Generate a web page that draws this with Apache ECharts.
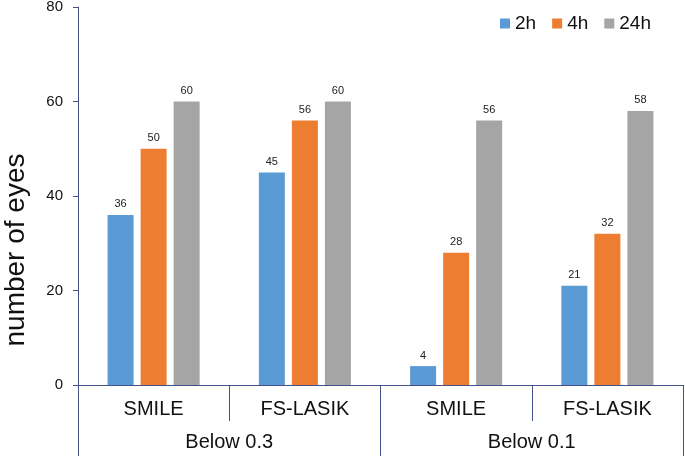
<!DOCTYPE html>
<html><head><meta charset="utf-8">
<script src="https://cdn.jsdelivr.net/npm/echarts@6/dist/echarts.min.js"></script>
<style>html,body{margin:0;padding:0;background:#fff}#c{width:685px;height:456px}</style>
</head><body><div id="c"></div>
<script>
const categories = ['SMILE', 'FS-LASIK', 'SMILE', 'FS-LASIK'];
const groups = ['Below 0.3', 'Below 0.1'];
const seriesNames = ['2h', '4h', '24h'];
const v2h = [36, 45, 4, 21];
const v4h = [50, 56, 28, 32];
const v24h = [60, 60, 56, 58];
const yTicks = [0, 20, 40, 60, 80];
const colors = ['#5B9BD5', '#ED7D31', '#A5A5A5'];
const axisColor = '#44508c';
const font = 'Liberation Sans, Arial, sans-serif';

const chart = echarts.init(document.getElementById('c'));
const mk = (name, data, i) => ({
  name, type: 'bar', data, xAxisIndex: 0,
  barWidth: 26, barGap: '27%',
  itemStyle: { color: colors[i] },
  label: { show: true, position: 'top', distance: 5, fontSize: 11, color: '#222', fontFamily: font }
});
chart.setOption({
  animation: false,
  textStyle: { fontFamily: font },
  grid: { left: 78, right: 2, top: 7, bottom: 71, outerBoundsMode: 'none', containLabel: false },
  legend: {
    data: seriesNames, left: 500, top: 14, padding: 0, itemWidth: 10, itemHeight: 10, itemGap: 16,
    icon: 'rect', textStyle: { fontSize: 19, color: '#111', fontFamily: font }
  },
  xAxis: [
    {
      type: 'category', data: categories, position: 'bottom',
      axisLine: { lineStyle: { color: axisColor, width: 1 } },
      axisTick: { show: true, length: 36, lineStyle: { color: axisColor } },
      axisLabel: { fontSize: 20, color: '#111', margin: 14, fontFamily: font }
    },
    {
      type: 'category', data: groups, position: 'bottom', offset: 0,
      axisLine: { show: false },
      axisTick: { show: true, length: 72, lineStyle: { color: axisColor } },
      axisLabel: { fontSize: 20, color: '#111', margin: 47, fontFamily: font }
    }
  ],
  yAxis: {
    type: 'value', min: 0, max: 80, interval: 20,
    name: 'number of eyes', nameLocation: 'middle', nameGap: 48,
    nameTextStyle: { fontSize: 28, color: '#111', fontFamily: font, padding: [0, 108, 0, 0] },
    axisLine: { show: true, lineStyle: { color: axisColor } },
    axisTick: { show: true, length: 5, lineStyle: { color: axisColor } },
    axisLabel: { fontSize: 15, color: '#111', margin: 15, fontFamily: font,
      formatter: v => yTicks.includes(v) ? String(v) : '' },
    splitLine: { show: false }
  },
  series: [mk(seriesNames[0], v2h, 0), mk(seriesNames[1], v4h, 1), mk(seriesNames[2], v24h, 2)]
});
</script></body></html>
